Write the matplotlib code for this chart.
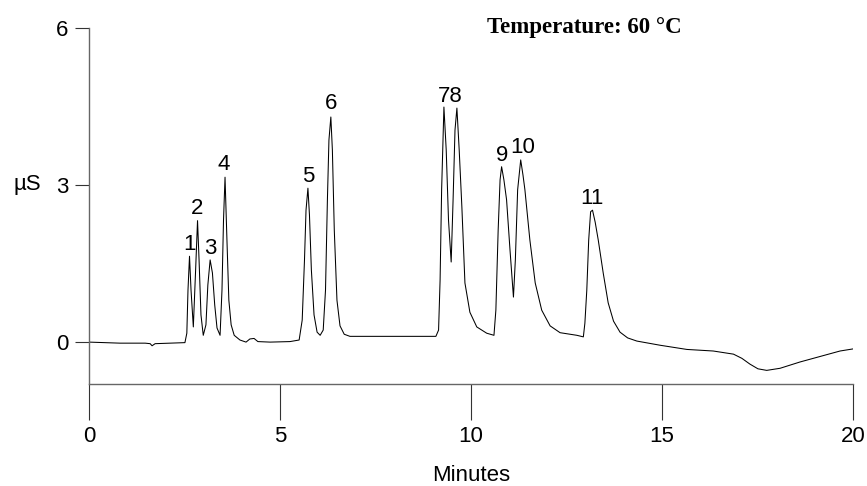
#!/usr/bin/env python3
"""Ion chromatogram at 60 °C, conductivity trace with numbered peaks."""

import matplotlib
matplotlib.use("Agg")
import matplotlib.pyplot as plt

TIME_MIN = [
    0.00, 0.81, 1.47, 1.60, 1.65, 1.73, 2.12, 2.51, 2.56, 2.59, 2.63, 2.67,
    2.73, 2.79, 2.84, 2.88, 2.93, 2.99, 3.06, 3.11, 3.17, 3.23, 3.29, 3.35,
    3.43, 3.48, 3.52, 3.56, 3.61, 3.66, 3.72, 3.80, 3.95, 4.11, 4.21, 4.32,
    4.42, 4.74, 5.26, 5.50, 5.58, 5.64, 5.68, 5.73, 5.77, 5.82, 5.89, 5.97,
    6.05, 6.13, 6.19, 6.24, 6.28, 6.33, 6.37, 6.42, 6.49, 6.57, 6.68, 6.83,
    7.36, 8.14, 9.08, 9.15, 9.19, 9.23, 9.29, 9.35, 9.41, 9.48, 9.53, 9.58,
    9.63, 9.69, 9.76, 9.84, 9.97, 10.15, 10.41, 10.60, 10.65, 10.71, 10.76,
    10.80, 10.86, 10.93, 11.02, 11.11, 11.16, 11.22, 11.30, 11.36, 11.41,
    11.54, 11.68, 11.85, 12.07, 12.33, 12.77, 12.94, 12.98, 13.03, 13.08,
    13.13, 13.18, 13.25, 13.33, 13.46, 13.59, 13.73, 13.90, 14.10, 14.34,
    14.95, 15.65, 16.34, 16.87, 17.09, 17.30, 17.51, 17.74, 18.09, 18.61,
    18.96, 19.66, 20.00,
]
SIGNAL_US = [
    0.00, -0.02, -0.02, -0.03, -0.07, -0.03, -0.02, -0.01, 0.17, 0.99, 1.64, 0.99,
    0.29, 1.38, 2.32, 1.57, 0.52, 0.13, 0.33, 1.09, 1.57, 1.32, 0.71, 0.27,
    0.13, 0.99, 2.33, 3.15, 1.95, 0.80, 0.33, 0.13, 0.04, 0.00, 0.06, 0.07,
    0.01, 0.00, 0.01, 0.04, 0.42, 1.57, 2.52, 2.94, 2.43, 1.38, 0.52, 0.19,
    0.13, 0.23, 0.99, 2.72, 3.86, 4.30, 3.67, 2.14, 0.80, 0.31, 0.15, 0.11,
    0.11, 0.11, 0.11, 0.23, 1.19, 2.91, 4.49, 3.67, 2.33, 1.53, 2.72, 4.05,
    4.47, 3.67, 2.58, 1.13, 0.57, 0.29, 0.17, 0.13, 0.61, 2.14, 3.10,
    3.35, 3.10, 2.72, 1.76, 0.86, 1.57, 2.91, 3.48, 3.19, 2.91,
    1.95, 1.13, 0.61, 0.31, 0.18, 0.13, 0.10, 0.36, 0.99, 1.95,
    2.49, 2.52, 2.29, 1.95, 1.32, 0.75, 0.40, 0.19, 0.08, 0.02,
    -0.06, -0.14, -0.17, -0.23, -0.31, -0.42, -0.51, -0.54, -0.50, -0.38,
    -0.31, -0.17, -0.13,
]

# Peak annotations: label, time [min], label height [µS]
PEAK_LABELS = ["1", "2", "3", "4", "5", "6", "78", "9", "10", "11"]
PEAK_LABEL_T = [2.62, 2.83, 3.17, 3.53, 5.73, 6.34, 9.45, 10.81, 11.36, 13.17]
PEAK_LABEL_Y = [1.87, 2.56, 1.79, 3.40, 3.17, 4.55, 4.70, 3.56, 3.71, 2.75]

X_TICKS = [0, 5, 10, 15, 20]
Y_TICKS = [0, 3, 6]

# ── Plot ──────────────────────────────────────────────────────────────────
plt.rcParams["font.family"] = ["Liberation Sans", "DejaVu Sans"]

fig = plt.figure(figsize=(8.67, 4.86), dpi=100)
ax = fig.add_axes([0.1027, 0.2099, 0.8812, 0.7325])

ax.plot(TIME_MIN, SIGNAL_US, color="black", linewidth=0.75)

for lab, t, y in zip(PEAK_LABELS, PEAK_LABEL_T, PEAK_LABEL_Y):
    ax.text(t, y, lab, ha="center", va="center", fontsize=16)

ax.set_xlim(0, 20)
ax.set_ylim(-0.8, 6)
ax.set_xticks(X_TICKS)
ax.set_yticks(Y_TICKS)

for side in ("top", "right"):
    ax.spines[side].set_visible(False)
for side in ("left", "bottom"):
    ax.spines[side].set_color("#666666")
    ax.spines[side].set_linewidth(1.0)

ax.tick_params(axis="x", direction="out", length=26, width=0.8,
               color="#333333", labelsize=16, pad=4)
ax.tick_params(axis="y", direction="out", length=10, width=0.8,
               color="#333333", labelsize=16, pad=5)

ax.set_xlabel("Minutes", fontsize=16, labelpad=13)
ax.set_ylabel("µS", fontsize=16, rotation=0, ha="center", va="center")
ax.yaxis.set_label_coords(-0.081, 0.559)

ax.text(0.521, 1.0, "Temperature: 60 °C", transform=ax.transAxes,
        ha="left", va="center", fontsize=16.5, fontweight="bold",
        family=["Liberation Serif", "DejaVu Serif"])

fig.savefig("out.png", dpi=100)
